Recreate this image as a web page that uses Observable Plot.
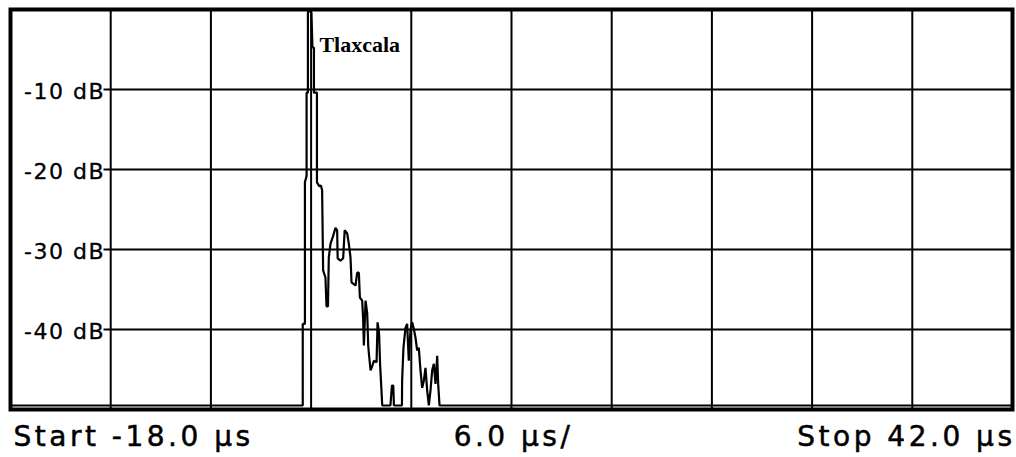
<!DOCTYPE html>
<html>
<head>
<meta charset="utf-8">
<script src="https://cdn.jsdelivr.net/npm/d3@7"></script>
<script src="https://cdn.jsdelivr.net/npm/@observablehq/plot@0.6"></script>
<style>
  html, body { margin: 0; padding: 0; background: #fff; }
  #chart svg { display: block; }
</style>
</head>
<body>
<div id="chart"></div>
<script>
// ---- Data ----
const timeUs = [-18, -0.5, -0.5, -0.37, -0.37, -0.27, -0.27, -0.19, -0.19, -0.1, 0.02, 0.08, 0.17, 0.17, 0.35, 0.35, 0.50, 0.59, 0.66, 0.72, 0.86, 0.92, 1.01, 1.06, 1.16, 1.32, 1.46, 1.56, 1.59, 1.76, 1.92, 2.01, 2.16, 2.26, 2.36, 2.42, 2.66, 2.76, 2.86, 2.92, 3.06, 3.12, 3.16, 3.26, 3.36, 3.42, 3.46, 3.56, 3.66, 3.76, 3.92, 3.98, 4.07, 4.13, 4.26, 4.75, 4.84, 4.92, 4.96, 5.44, 5.45, 5.53, 5.65, 5.75, 5.85, 5.95, 6.05, 6.15, 6.25, 6.35, 6.45, 6.55, 6.65, 6.75, 6.85, 6.95, 7.05, 7.15, 7.25, 7.35, 7.45, 7.55, 7.61, 7.69, 42];
const levelDb = [-49.5, -49.5, -39.3, -39.3, -21.6, -20.8, -10.4, -10.4, -0.4, -0.1, -0.4, -4.75, -4.75, -10.4, -10.4, -21.6, -22.1, -22.0, -22.6, -32.6, -33.5, -37.1, -37.1, -31.0, -29.3, -28.3, -27.3, -27.6, -31.1, -31.4, -31.1, -27.6, -28.0, -29.3, -31.0, -34.1, -34.5, -32.9, -32.9, -36.0, -36.4, -38.9, -42.0, -36.4, -38.0, -42.0, -43.0, -45.1, -44.6, -43.9, -44.1, -39.1, -40.5, -44.3, -49.5, -49.5, -47.0, -47.0, -49.5, -49.5, -46.4, -42.3, -39.8, -39.3, -43.9, -40.1, -39.1, -39.9, -41.0, -42.6, -42.3, -45.1, -47.3, -46.4, -44.8, -47.6, -49.5, -47.6, -45.1, -44.3, -46.8, -43.3, -46.8, -49.5, -49.5];

const xStart = -18, xStop = 42, xPerDiv = 6;
const xGrid = [-12, -6, 0, 6, 12, 18, 24, 30, 36];
const yTicks = [-10, -20, -30, -40];
const yTickLabels = ["-10 dB", "-20 dB", "-30 dB", "-40 dB"];
const yMin = -50, yMax = 0;
const startLabel = "Start -18.0 µs";
const divLabel = "6.0 µs/";
const stopLabel = "Stop 42.0 µs";
const annotation = "Tlaxcala";
const annotationX = 0.5, annotationY = -5.25;

const trace = timeUs.map((t, i) => ({t, db: levelDb[i]}));
const hGridStart = -12.4;

const sans = "DejaVu Sans, Verdana, sans-serif";
const bottomText = {y: yMin, lineAnchor: "bottom", dy: 36, fontFamily: sans, fontSize: 28, fill: "#000", className: "blab"};

const chart = Plot.plot({
  width: 1016,
  height: 457,
  marginLeft: 10,
  marginRight: 4,
  marginTop: 9,
  marginBottom: 48,
  x: {domain: [xStart, xStop], axis: null},
  y: {domain: [yMin, yMax], axis: null},
  style: {background: "#fff", overflow: "visible"},
  marks: [
    Plot.ruleX(xGrid, {stroke: "#000", strokeWidth: 2}),
    Plot.ruleY(yTicks, {x1: hGridStart, x2: xStop, stroke: "#000", strokeWidth: 2}),
    Plot.text(yTicks, {
      x: hGridStart, y: d => d, text: (d, i) => yTickLabels[i],
      textAnchor: "end", lineAnchor: "bottom", dx: 1, dy: 9,
      fontFamily: sans, fontSize: 22, fill: "#000", stroke: "#000", strokeWidth: 0.3, className: "ylab"
    }),
    Plot.line(trace, {x: "t", y: "db", stroke: "#000", strokeWidth: 2.2, strokeLinejoin: "miter"}),
    Plot.text([annotation], {
      x: annotationX, y: annotationY, text: d => d,
      textAnchor: "start", lineAnchor: "bottom",
      fontFamily: "Liberation Serif, Times New Roman, serif", fontWeight: "bold", fontSize: 22, fill: "#000"
    }),
    Plot.frame({stroke: "#000", strokeWidth: 4}),
    Plot.text([startLabel], {...bottomText, x: xStart, text: d => d, textAnchor: "start", dx: 3}),
    Plot.text([divLabel], {...bottomText, x: (xStart + xStop) / 2, text: d => d, textAnchor: "middle", dx: 2}),
    Plot.text([stopLabel], {...bottomText, x: xStop, text: d => d, textAnchor: "end", dx: 3})
  ]
});

// widen the glyph spacing like the instrument font
d3.select(chart).selectAll(".ylab text").attr("letter-spacing", "1.5px");
d3.select(chart).selectAll(".blab text").attr("letter-spacing", "3.5px")
  .attr("stroke", "#000").attr("stroke-width", 0.5);
document.getElementById("chart").appendChild(chart);
</script>
</body>
</html>
